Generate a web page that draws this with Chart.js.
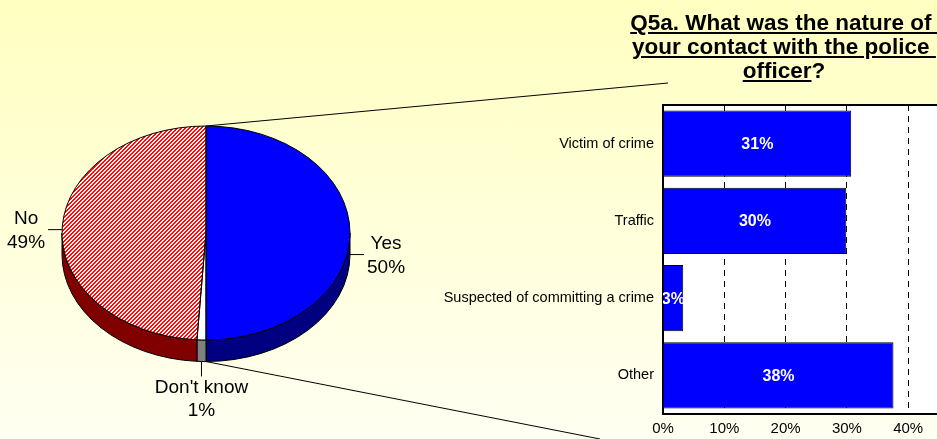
<!DOCTYPE html>
<html>
<head>
<meta charset="utf-8">
<script src="https://cdn.jsdelivr.net/npm/chart.js@4.4.0/dist/chart.umd.min.js"></script>
<style>
  html, body { margin: 0; padding: 0; }
  body {
    width: 937px; height: 439px; overflow: hidden; position: relative;
    background: linear-gradient(to bottom, #ffffc0, #fffff2);
    font-family: Arial, "Liberation Sans", sans-serif;
  }
  #pieChart { position: absolute; left: 0; top: 0; }
  #barChart { position: absolute; left: 420px; top: 0; }
  #title {
    position: absolute; left: 624px; top: 11px; width: 320px;
    text-align: center; font: bold 22.5px Arial, "Liberation Sans", sans-serif;
    line-height: 24px; white-space: pre; color: #000;
  }
</style>
</head>
<body>
<canvas id="pieChart" width="937" height="439"></canvas>
<canvas id="barChart" width="580" height="439"></canvas>
<div id="title"><u>Q5a. What was the nature of </u>
<u>your contact with the police </u>
<u>officer</u>?</div>
<script>
// pie: did you have contact
const pieLabels = ['Yes', "Don't know", 'No'];
const pieValues = [50, 1, 49];

// bar: nature of contact
const barLabels = ['Victim of crime', 'Traffic', 'Suspected of committing a crime', 'Other'];
const barValues = [30.7, 29.9, 3.3, 37.6];
const xMax = 50;
const xStep = 10;

const pieSideColors = ['#000080', '#808080', '#800000'];
const FLAT = 0.743;   // ellipse ratio
const DEPTH = 29;     // thickness before flattening

function hatch() {
    const c = document.createElement('canvas');
    c.width = c.height = 4;
    const g = c.getContext('2d');
    g.fillStyle = '#fff';
    g.fillRect(0, 0, 4, 4);
    g.fillStyle = '#ff0000';
    for (let y = 0; y < 4; y++)
        for (let x = 0; x < 4; x++)
            if ((x + y) % 4 < 2) g.fillRect(x, y, 1, 1);
    const p = g.createPattern(c, 'repeat');
    p.setTransform(new DOMMatrix([1, 0, 0, 1 / FLAT, 0, 0]));
    return p;
}

function squash(ctx, a) {
    ctx.translate(a.x, a.y);
    ctx.scale(1, FLAT);
    ctx.translate(-a.x, -a.y);
}

const pie3d = {
    id: 'pie3d',
    beforeDatasetsDraw(chart) {
        const ctx = chart.ctx;
        const arcs = chart.getDatasetMeta(0).data;
        ctx.lineWidth = 1;
        ctx.strokeStyle = '#000';
        arcs.forEach((a, i) => {
            const s = Math.max(a.startAngle, 0), e = Math.min(a.endAngle, Math.PI);
            if (e <= s) return;
            ctx.save();
            squash(ctx, a);
            ctx.beginPath();
            ctx.arc(a.x, a.y, a.outerRadius, s, e);
            ctx.arc(a.x, a.y + DEPTH, a.outerRadius, e, s, true);
            ctx.closePath();
            ctx.restore();
            ctx.fillStyle = pieSideColors[i];
            ctx.fill();
            ctx.stroke();
        });
        ctx.save();
        squash(ctx, arcs[0]);
    },
    afterDatasetsDraw(chart) {
        const ctx = chart.ctx;
        ctx.restore();
        const arcs = chart.getDatasetMeta(0).data;
        ctx.lineWidth = 1;
        ctx.strokeStyle = '#000';
        arcs.forEach(a => {
            ctx.save();
            squash(ctx, a);
            ctx.beginPath();
            ctx.moveTo(a.x, a.y);
            ctx.arc(a.x, a.y, a.outerRadius, a.startAngle, a.endAngle);
            ctx.closePath();
            ctx.restore();
            ctx.stroke();
        });
    },
    afterDraw(chart) {
        const ctx = chart.ctx;
        const arcs = chart.getDatasetMeta(0).data;
        const a0 = arcs[0];
        const ry = a0.outerRadius * FLAT, d = DEPTH * FLAT;

        // zoom lines toward the bar chart
        ctx.save();
        ctx.strokeStyle = '#000';
        ctx.lineWidth = 1;
        ctx.beginPath();
        ctx.moveTo(a0.x, a0.y - ry);
        ctx.lineTo(668, 83);
        ctx.moveTo(a0.x, a0.y + ry + d);
        ctx.lineTo(600, 439);
        ctx.stroke();

        ctx.font = '19px Arial, "Liberation Sans", sans-serif';
        ctx.fillStyle = '#000';
        ctx.textAlign = 'center';
        ctx.textBaseline = 'middle';
        arcs.forEach((a, i) => {
            const mid = (a.startAngle + a.endAngle) / 2;
            const c = Math.cos(mid), sn = Math.sin(mid);
            const px = a.x + a.outerRadius * c;
            const py = a.y + ry * sn + (sn >= -1e-6 ? d : 0);
            const lines = [pieLabels[i], pieValues[i] + '%'];
            const w = Math.max(...lines.map(t => ctx.measureText(t).width));
            ctx.beginPath();
            if (Math.abs(c) > Math.abs(sn)) {
                const dir = c > 0 ? 1 : -1;
                const ex = px + dir * 14;
                ctx.moveTo(px, py);
                ctx.lineTo(ex, py);
                ctx.stroke();
                const tx = ex + dir * (w / 2 + 3);
                ctx.fillText(lines[0], tx, py - 11);
                ctx.fillText(lines[1], tx, py + 13);
            } else {
                const ey = py + 15;
                ctx.moveTo(px, py);
                ctx.lineTo(px, ey);
                ctx.stroke();
                ctx.fillText(lines[0], px, ey + 11);
                ctx.fillText(lines[1], px, ey + 34);
            }
        });
        ctx.restore();
    }
};

new Chart(document.getElementById('pieChart'), {
    type: 'pie',
    data: {
        labels: pieLabels,
        datasets: [{
            data: pieValues,
            backgroundColor: ['#0000ff', '#ffffff', hatch()],
            borderWidth: 0,
            clip: false
        }]
    },
    options: {
        responsive: false,
        animation: false,
        layout: { padding: { left: 62, right: 587, top: 89, bottom: 62 } },
        plugins: { legend: { display: false }, tooltip: { enabled: false } }
    },
    plugins: [pie3d]
});

const barBits = {
    id: 'barBits',
    beforeDraw(chart) {
        const { ctx, chartArea: ca } = chart;
        ctx.save();
        ctx.fillStyle = '#fff';
        ctx.fillRect(ca.left, ca.top, ca.right - ca.left, ca.bottom - ca.top);
        ctx.restore();
    },
    afterDatasetsDraw(chart) {
        const { ctx, chartArea: ca } = chart;
        ctx.save();
        ctx.beginPath();
        ctx.rect(ca.left, ca.top, ca.right - ca.left, ca.bottom - ca.top);
        ctx.clip();
        ctx.font = 'bold 16px Arial, "Liberation Sans", sans-serif';
        ctx.fillStyle = '#fff';
        ctx.textAlign = 'center';
        ctx.textBaseline = 'middle';
        chart.getDatasetMeta(0).data.forEach((bar, i) => {
            ctx.fillText(Math.round(barValues[i]) + '%', (bar.x + bar.base) / 2, bar.y + 1);
        });
        ctx.restore();
    },
    afterDraw(chart) {
        const { ctx, chartArea: ca } = chart;
        ctx.save();
        ctx.strokeStyle = '#000';
        ctx.lineWidth = 2;
        ctx.beginPath();
        ctx.moveTo(ca.left - 1, ca.top);
        ctx.lineTo(ca.right, ca.top);
        ctx.stroke();
        ctx.restore();
    }
};

new Chart(document.getElementById('barChart'), {
    type: 'bar',
    data: {
        labels: barLabels,
        datasets: [{
            data: barValues,
            backgroundColor: '#0000ff',
            borderColor: '#000',
            borderWidth: 1,
            categoryPercentage: 0.86,
            barPercentage: 1
        }]
    },
    options: {
        indexAxis: 'y',
        responsive: false,
        animation: false,
        layout: { padding: { top: 105, right: 30.5, bottom: 0, left: 0 } },
        plugins: { legend: { display: false }, tooltip: { enabled: false } },
        scales: {
            x: {
                min: 0,
                max: xMax,
                ticks: {
                    stepSize: xStep,
                    callback: v => v + '%',
                    color: '#000',
                    font: { family: 'Arial', size: 15 },
                    padding: 6
                },
                grid: { color: '#000', lineWidth: 1, drawTicks: false },
                border: { display: true, color: '#000', width: 2, dash: [6, 5] },
                afterFit: s => { s.height = 25; }
            },
            y: {
                ticks: { color: '#000', font: { family: 'Arial', size: 14.5 }, padding: 9 },
                grid: { display: false, drawTicks: false },
                border: { display: true, color: '#000', width: 2 },
                afterFit: s => { s.width = 243; }
            }
        }
    },
    plugins: [barBits]
});
</script>
</body>
</html>
